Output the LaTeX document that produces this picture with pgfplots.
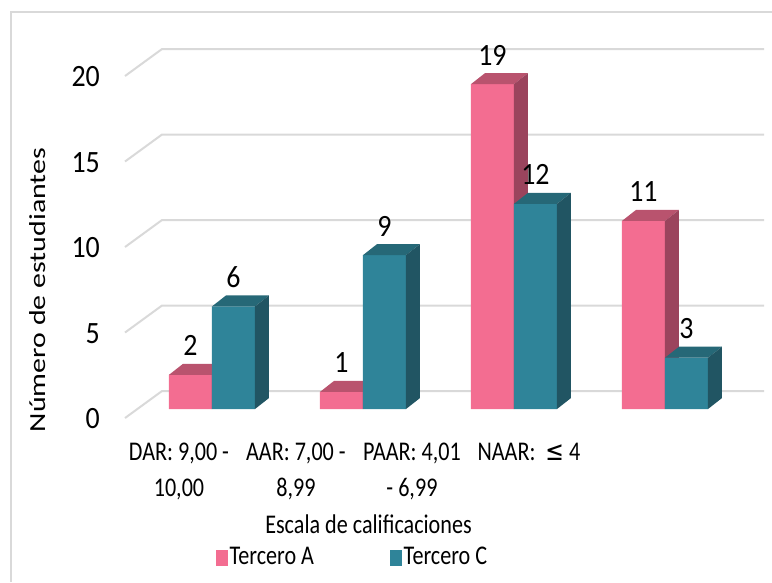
\documentclass[border=0pt]{standalone}
\usepackage{fontspec}
\setmainfont{Carlito}[FakeStretch=0.82]
\newfontfamily\numfont{Carlito}[FakeStretch=0.9]
\newfontfamily\ylabfont{Carlito}[FakeStretch=1.3]
\newfontfamily\symfont{DejaVu Sans}[FakeStretch=0.82]
\usepackage{pgfplots}
\usepackage{pgfplotstable}
\pgfplotsset{compat=1.18}
\definecolor{pinkF}{HTML}{F36D91}
\definecolor{pinkT}{HTML}{B9536E}
\definecolor{pinkS}{HTML}{9B445D}
\definecolor{tealF}{HTML}{2F8499}
\definecolor{tealT}{HTML}{266877}
\definecolor{tealS}{HTML}{215563}
\definecolor{gridc}{HTML}{D9D9D9}

\pgfplotstableread{
x A C
0 2 6
1 1 9
2 19 12
3 11 3
}\datatable

% 3D faces (top and side) of a bar whose front face starts at #1 and has height #2
\newcommand{\faces}[4]{%
  \pgfmathsetmacro\xr{#1+0.2848}%
  \pgfmathsetmacro\xlb{#1+0.0927}%
  \pgfmathsetmacro\xrb{#1+0.2848+0.0927}%
  \pgfmathsetmacro\vb{#2+0.643}%
  \edef\tmp{\noexpand\addplot[fill=#3,draw=none,forget plot] coordinates {(#1,#2) (\xlb,\vb) (\xrb,\vb) (\xr,#2)} -- cycle;}\tmp
  \edef\tmp{\noexpand\addplot[fill=#4,draw=none,forget plot] coordinates {(\xr,0) (\xr,#2) (\xrb,\vb) (\xrb,0.643)} -- cycle;}\tmp
}

\begin{document}
\fontsize{27}{36}\selectfont
\begin{tikzpicture}
\useasboundingbox (0,0) rectangle (772pt,582pt);
\draw[color=gridc, line width=1.2pt] (11pt,0pt) -- (11pt,570pt) -- (772pt,570pt);
\begin{axis}[
  at={(109pt,162.7pt)}, anchor=south west,
  x=151pt, y=17.1pt,
  xmin=-0.682, xmax=3.7, ymin=-0.6, ymax=22,
  enlargelimits=false, clip=false,
  axis line style={draw=none},
  major tick style={draw=none},
  /pgf/number format/assume math mode=true,
  ytick={0,5,10,15,20},
  yticklabel style={font=\numfont\fontsize{31}{37}\selectfont, yshift=-10pt},
  xtick={-0.2185,0.556,1.3245,2.099},
  xticklabels={{DAR: 9,00 -\\10,00},{AAR: 7,00 -\\8,99},{PAAR: 4,01\\- 6,99},{NAAR:\ \ {\symfont ≤} 4}},
  xticklabel style={align=center, anchor=north, yshift=-14.7pt},
  xlabel={Escala de calificaciones},
  ylabel={Número de estudiantes},
  every axis x label/.style={at={(axis description cs:0.3922,-0.2942)}, anchor=base},
  every axis y label/.style={at={(axis description cs:-0.1073,0.3346)}, anchor=center, rotate=90,
    font=\ylabfont\fontsize{23}{28}\selectfont},
  legend columns=2,
  legend image code/.code={\fill[#1] (0pt,-7.85pt) rectangle (11.7pt,7.85pt);},
  legend style={at={(axis description cs:0.3680,-0.3589)}, anchor=center, draw=none, fill=none,
    /tikz/every even column/.append style={column sep=74pt}},
]
% grid lines (floor edge + back wall)
\addplot[forget plot, color=gridc, line width=2pt] coordinates {(-0.576,-0.526) (-0.331,1.053) (3.656,1.053)};
\addplot[forget plot, color=gridc, line width=2pt] coordinates {(-0.576,4.474) (-0.331,6.053) (3.656,6.053)};
\addplot[forget plot, color=gridc, line width=2pt] coordinates {(-0.576,9.474) (-0.331,11.053) (3.656,11.053)};
\addplot[forget plot, color=gridc, line width=2pt] coordinates {(-0.576,14.474) (-0.331,16.053) (3.656,16.053)};
\addplot[forget plot, color=gridc, line width=2pt] coordinates {(-0.576,19.474) (-0.331,21.053) (3.656,21.053)};

% Tercero A
\addplot[ybar, bar width=43pt, bar shift=-21.5pt, fill=pinkF, draw=none,
  nodes near coords,
  nodes near coords style={font=\numfont\fontsize{31}{37}\selectfont, anchor=center, xshift=-21.5pt, yshift=29pt, text=black}]
  table[x=x, y=A]{\datatable};
\addlegendentry{Tercero A}
\faces{-0.2848}{2}{pinkT}{pinkS}
\faces{0.7152}{1}{pinkT}{pinkS}
\faces{1.7152}{19}{pinkT}{pinkS}
\faces{2.7152}{11}{pinkT}{pinkS}

% Tercero C
\addplot[ybar, bar width=43pt, bar shift=21.5pt, fill=tealF, draw=none,
  nodes near coords,
  nodes near coords style={font=\numfont\fontsize{31}{37}\selectfont, anchor=center, xshift=21.5pt, yshift=29pt, text=black}]
  table[x=x, y=C]{\datatable};
\addlegendentry{Tercero C}
\faces{0}{6}{tealT}{tealS}
\faces{1}{9}{tealT}{tealS}
\faces{2}{12}{tealT}{tealS}
\faces{3}{3}{tealT}{tealS}
\end{axis}
\end{tikzpicture}
\end{document}
